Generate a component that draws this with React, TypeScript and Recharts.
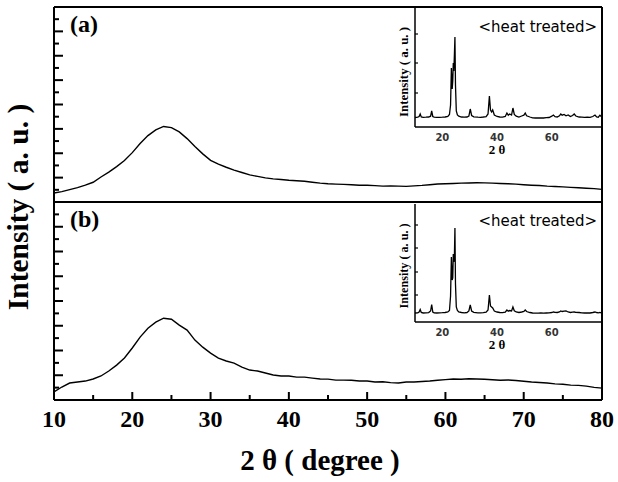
import { LineChart, Line, XAxis, YAxis } from 'recharts'

// main scans, 2θ every degree
const twoTheta = [
  10, 11, 12, 13, 14, 15, 16, 17, 18, 19, 20, 21, 22, 23, 24, 25, 26, 27, 28, 29,
  30, 31, 32, 33, 34, 35, 36, 37, 38, 39, 40, 41, 42, 43, 44, 45, 46, 47, 48, 49,
  50, 51, 52, 53, 54, 55, 56, 57, 58, 59, 60, 61, 62, 63, 64, 65, 66, 67, 68, 69,
  70, 71, 72, 73, 74, 75, 76, 77, 78, 79, 80,
]
const sampleA = [
  0.74, 0.85, 1.02, 1.18, 1.38, 1.62, 2.05, 2.45, 2.9, 3.4, 4.05, 4.8, 5.45, 5.92, 6.2, 6.1, 5.75, 5.2, 4.55, 3.95,
  3.42, 3.1, 2.85, 2.62, 2.42, 2.22, 2.1, 1.98, 1.9, 1.85, 1.78, 1.74, 1.7, 1.62, 1.55, 1.5, 1.47, 1.45, 1.42, 1.38,
  1.38, 1.34, 1.3, 1.32, 1.3, 1.28, 1.32, 1.36, 1.42, 1.48, 1.5, 1.52, 1.55, 1.56, 1.58, 1.57, 1.55, 1.52, 1.5, 1.47,
  1.42, 1.38, 1.35, 1.3, 1.27, 1.24, 1.2, 1.17, 1.13, 1.1, 1.04,
]
const sampleB = [
  0.65, 1.05, 1.37, 1.45, 1.53, 1.7, 1.94, 2.34, 2.82, 3.39, 4.2, 5.08, 5.8, 6.29, 6.61, 6.53, 6.05, 5.65, 4.84, 4.27,
  3.79, 3.39, 3.15, 2.98, 2.66, 2.42, 2.34, 2.18, 2.02, 1.94, 1.94, 1.85, 1.85, 1.77, 1.7, 1.69, 1.61, 1.61, 1.6, 1.53,
  1.53, 1.45, 1.47, 1.4, 1.37, 1.45, 1.46, 1.5, 1.53, 1.6, 1.65, 1.7, 1.68, 1.72, 1.7, 1.68, 1.64, 1.6, 1.62, 1.58,
  1.52, 1.46, 1.42, 1.37, 1.3, 1.27, 1.2, 1.18, 1.12, 1.02, 0.96,
]

// heat treated insets
const insetTheta = [
  10, 11, 11.5, 11.9, 12.3, 13, 14, 15, 15.7, 16.1, 16.5, 17, 18, 19, 20, 21, 22, 22.6, 23.0, 23.3,
  23.6, 23.8, 24.0, 24.2, 24.4, 24.6, 24.8, 25.1, 25.5, 26, 27, 28, 29, 29.7, 30.2, 30.7, 31.5, 33, 34, 35,
  36, 36.7, 37.2, 37.6, 38.0, 38.4, 39, 40, 41, 42, 43, 43.6, 44.1, 44.6, 45.3, 45.8, 46.3, 47, 48, 49,
  49.8, 50.3, 50.8, 52, 53, 54, 55, 56, 57, 58, 59, 60.0, 60.6, 61.2, 62, 62.8, 63.3, 63.8, 64.5, 65.2,
  66, 66.8, 67.6, 68.2, 68.8, 70, 71, 72, 73, 74, 75, 75.8, 76.4, 77, 77.6, 78,
]
const insetA = [
  95, 98, 105, 130, 100, 97, 98, 100, 108, 160, 105, 98, 96, 97, 98, 100, 105, 125, 220, 590,
  380, 460, 640, 560, 720, 900, 420, 160, 120, 108, 100, 98, 100, 110, 180, 115, 102, 98, 97, 100,
  104, 130, 310, 170, 150, 170, 120, 105, 100, 98, 105, 140, 118, 130, 120, 190, 125, 108, 100, 110,
  118, 140, 112, 100, 92, 90, 90, 92, 90, 93, 95, 108, 120, 104, 100, 112, 130, 118, 125, 112,
  120, 104, 115, 130, 110, 100, 98, 96, 98, 97, 105, 120, 100, 98, 118, 105,
]
const insetB = [
  90, 92, 100, 125, 95, 90, 92, 94, 110, 175, 100, 92, 90, 92, 93, 95, 100, 115, 260, 650,
  420, 440, 680, 600, 650, 940, 380, 150, 115, 100, 95, 92, 95, 110, 170, 110, 96, 92, 92, 93,
  98, 120, 270, 160, 150, 140, 110, 100, 95, 94, 98, 120, 108, 115, 110, 150, 112, 100, 95, 100,
  105, 120, 105, 95, 90, 88, 88, 90, 88, 90, 92, 95, 100, 96, 95, 100, 110, 105, 108, 110,
  100, 95, 98, 100, 96, 95, 92, 90, 92, 90, 95, 100, 95, 92, 96, 92,
]

const mainTicksX = [10, 15, 20, 25, 30, 35, 40, 45, 50, 55, 60, 65, 70, 75, 80]
const mainTicksY = [1, 2, 3, 4, 5, 6, 7, 8, 9, 10, 11, 12, 13, 14, 15]
const insetTicksX = [20, 40, 60]
const insetTicksYA = [340, 640, 930]
const insetTicksYB = [270, 500, 740, 970]

const mainData = twoTheta.map((x, i) => ({ x, a: sampleA[i], b: sampleB[i] }))
const insetData = insetTheta.map((x, i) => ({ x, a: insetA[i], b: insetB[i] }))

const SERIF = '"Liberation Serif", "Times New Roman", serif'
const SANS = '"DejaVu Sans", sans-serif'
const frame = { stroke: '#000', strokeWidth: 2 }
const thin = { stroke: '#000', strokeWidth: 1.5 }

function MainYTick(props: any) {
  const { x, y, payload } = props
  const len = payload.value % 2 === 0 ? 9 : 5
  return <line x1={x} x2={x + len} y1={y} y2={y} stroke="#000" strokeWidth={2} />
}

function MainXTick(props: any) {
  const { x, y, payload } = props
  const major = payload.value % 10 === 0
  return (
    <g>
      <line x1={x} x2={x} y1={y} y2={y - (major ? 8 : 5)} stroke="#000" strokeWidth={2} />
      {major && (
        <text x={x} y={y + 27} textAnchor="middle" fontSize={24} fontWeight="bold" fontFamily={SERIF} fill="#000">
          {payload.value}
        </text>
      )}
    </g>
  )
}

function InsetYTick(props: any) {
  const { x, y } = props
  return <line x1={x} x2={x + 3} y1={y} y2={y} stroke="#000" strokeWidth={1.2} />
}

function InsetXTick(props: any) {
  const { x, y, payload } = props
  return (
    <text x={x} y={y + 13.5} textAnchor="middle" fontSize={10} fontWeight="bold" fontFamily={SANS} fill="#333">
      {payload.value}
    </text>
  )
}

function panelLabel(text: string, y: number) {
  return () => (
    <text x={70} y={y} fontSize={24} fontWeight="bold" fontFamily={SERIF} fill="#000">
      {text}
    </text>
  )
}

function Inset({ dataKey, ticksY, top, maxY, labelY, labelLen, noteY }: {
  dataKey: string; ticksY: number[]; top: number; maxY: number; labelY: number; labelLen: number; noteY: number
}) {
  return (
    <LineChart width={228} height={160} data={insetData} margin={{ top, right: 16, bottom: 0, left: 0 }}>
      <XAxis
        dataKey="x"
        type="number"
        domain={[10, 78]}
        ticks={insetTicksX}
        interval={0}
        height={33}
        tickSize={0}
        tickMargin={0}
        tickLine={false}
        tick={<InsetXTick />}
        axisLine={thin}
        label={() => (
          <text x={107} y={154} textAnchor="middle" fontSize={13} fontWeight="bold" fontFamily={SERIF} fill="#000">
            2 θ
          </text>
        )}
      />
      <YAxis
        type="number"
        domain={[0, maxY]}
        ticks={ticksY}
        interval={0}
        width={25}
        tickSize={0}
        tickMargin={0}
        tickLine={false}
        tick={<InsetYTick />}
        axisLine={thin}
        label={() => (
          <text
            x={18}
            y={labelY}
            transform={`rotate(-90 18 ${labelY})`}
            textAnchor="middle"
            fontSize={13}
            fontWeight="bold"
            fontFamily={SERIF}
            textLength={labelLen}
            lengthAdjust="spacingAndGlyphs"
            fill="#000"
          >
            Intensity ( a. u. )
          </text>
        )}
      />
      <YAxis
        yAxisId="note"
        orientation="right"
        width={1}
        axisLine={false}
        tickLine={false}
        tick={false}
        label={() => (
          <text x={207} y={noteY} textAnchor="end" fontSize={15} fontFamily={SANS} fill="#000">
            {'<heat treated>'}
          </text>
        )}
      />
      <Line dataKey={dataKey} type="linear" stroke="#000" strokeWidth={1.3} dot={false} isAnimationActive={false} />
    </LineChart>
  )
}

export default function App() {
  return (
    <div style={{ position: 'absolute', left: 0, top: 0, width: 618, height: 482, background: '#fff' }}>
      {/* panel (a) + shared y title */}
      <div style={{ position: 'absolute', left: 0, top: 0 }}>
        <LineChart width={618} height={482} data={mainData} margin={{ top: 6, right: 15, bottom: 279, left: 0 }}>
          <XAxis dataKey="x" type="number" domain={[10, 80]} height={1} tick={false} tickLine={false} axisLine={frame} />
          <XAxis
            xAxisId="top"
            orientation="top"
            dataKey="x"
            type="number"
            domain={[10, 80]}
            height={1}
            tick={false}
            tickLine={false}
            axisLine={frame}
            label={panelLabel('(a)', 32)}
          />
          <YAxis
            type="number"
            domain={[0, 16]}
            ticks={mainTicksY}
            interval={0}
            width={54}
            tickSize={0}
            tickMargin={0}
            tickLine={false}
            tick={<MainYTick />}
            axisLine={frame}
            label={() => (
              <text
                x={28}
                y={207}
                transform="rotate(-90 28 207)"
                textAnchor="middle"
                fontSize={29.5}
                fontWeight="bold"
                fontFamily={SERIF}
                fill="#000"
              >
                Intensity ( a. u. )
              </text>
            )}
          />
          <YAxis yAxisId="right" orientation="right" width={1} tick={false} tickLine={false} axisLine={frame} />
          <Line dataKey="a" type="linear" stroke="#000" strokeWidth={1.4} dot={false} isAnimationActive={false} />
        </LineChart>
      </div>

      {/* panel (b) with the 2θ axis */}
      <div style={{ position: 'absolute', left: 0, top: 195 }}>
        <LineChart width={618} height={287} data={mainData} margin={{ top: 6, right: 15, bottom: 0, left: 0 }}>
          <XAxis
            dataKey="x"
            type="number"
            domain={[10, 80]}
            ticks={mainTicksX}
            interval={0}
            height={82}
            tickSize={0}
            tickMargin={0}
            tickLine={false}
            tick={<MainXTick />}
            axisLine={frame}
            label={() => (
              <text x={320} y={275} textAnchor="middle" fontSize={29} fontWeight="bold" fontFamily={SERIF} fill="#000">
                2 θ ( degree )
              </text>
            )}
          />
          <XAxis
            xAxisId="top"
            orientation="top"
            dataKey="x"
            type="number"
            domain={[10, 80]}
            height={1}
            tick={false}
            tickLine={false}
            axisLine={frame}
            label={panelLabel('(b)', 32)}
          />
          <YAxis
            type="number"
            domain={[0, 16]}
            ticks={mainTicksY}
            interval={0}
            width={54}
            tickSize={0}
            tickMargin={0}
            tickLine={false}
            tick={<MainYTick />}
            axisLine={frame}
          />
          <YAxis yAxisId="right" orientation="right" width={1} tick={false} tickLine={false} axisLine={frame} />
          <Line dataKey="b" type="linear" stroke="#000" strokeWidth={1.4} dot={false} isAnimationActive={false} />
        </LineChart>
      </div>

      <div style={{ position: 'absolute', left: 390, top: 0 }}>
        <Inset dataKey="a" ticksY={insetTicksYA} top={7} maxY={1200} labelY={72} labelLen={90} noteY={32} />
      </div>
      <div style={{ position: 'absolute', left: 390, top: 195 }}>
        <Inset dataKey="b" ticksY={insetTicksYB} top={9} maxY={1180} labelY={71} labelLen={85} noteY={31} />
      </div>
    </div>
  )
}
